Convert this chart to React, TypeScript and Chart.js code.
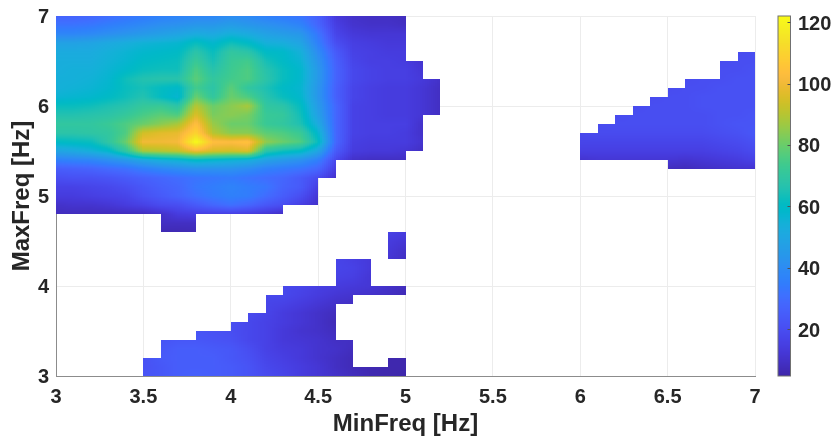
import React, { useEffect, useRef } from "react";
import { Chart, registerables } from "chart.js";

Chart.register(...registerables);

const _ = null;

const minFreqLabels = [3, 3.5, 4, 4.5, 5, 5.5, 6, 6.5, 7];
const maxFreqLabels = [3, 4, 5, 6, 7];
const colorbarLabels = [20, 40, 60, 80, 100, 120];
const colorMin = 4.7;
const colorMax = 122;

const minFreqNodes = [3.0,3.1,3.2,3.3,3.4,3.5,3.6,3.7,3.8,3.9,4.0,4.1,4.2,4.3,4.4,4.5,4.6,4.7,4.8,4.9,5.0,5.1,5.2,5.3,5.4,5.5,5.6,5.7,5.8,5.9,6.0,6.1,6.2,6.3,6.4,6.5,6.6,6.7,6.8,6.9,7.0];
const maxFreqNodes = [3.0,3.1,3.2,3.3,3.4,3.5,3.6,3.7,3.8,3.9,4.0,4.1,4.2,4.3,4.4,4.5,4.6,4.7,4.8,4.9,5.0,5.1,5.2,5.3,5.4,5.5,5.6,5.7,5.8,5.9,6.0,6.1,6.2,6.3,6.4,6.5,6.6,6.7,6.8,6.9,7.0];

// Values per MaxFreq row, from MinFreq 3.0 upward (left and lower regions)
const y30 = [_,_,_,_,_,22,23,25,26,25,24,22,19,17,14,12,10,8,6,5.5,5];
const y31 = [_,_,_,_,_,21,23,25,25,25,24,22,18,16,14,12,9,7,6,5.5,5.5];
const y32 = [_,_,_,_,_,21,24,25,25,25,23,21,17,15,13,11,9,7,_,5.5,5.5];
const y33 = [_,_,_,_,_,_,23,25,25,24,23,20,16,14,13,11,10,8];
const y34 = [_,_,_,_,_,_,22,23,23,22,21,18,16,13,12,11,9,9];
const y35 = [_,_,_,_,_,_,_,_,22,21,20,18,16,13,11,10,8];
const y36 = [_,_,_,_,_,_,_,_,_,_,20,18,16,14,12,10,7];
const y37 = [_,_,_,_,_,_,_,_,_,_,_,19,17,14,12,10,8];
const y38 = [_,_,_,_,_,_,_,_,_,_,_,_,17,16,14,12,10,9];
const y39 = [_,_,_,_,_,_,_,_,_,_,_,_,18,18,16,14,12,11,10,9,7];
const y40 = [_,_,_,_,_,_,_,_,_,_,_,_,_,18,17,15,14,13,12,10,8];
const y41 = [_,_,_,_,_,_,_,_,_,_,_,_,_,_,_,_,16,15,12];
const y42 = [_,_,_,_,_,_,_,_,_,_,_,_,_,_,_,_,17,16,13];
const y43 = [_,_,_,_,_,_,_,_,_,_,_,_,_,_,_,_,17,15,13,12,9];
const y44 = [_,_,_,_,_,_,_,_,_,_,_,_,_,_,_,_,_,_,_,13,10];
const y45 = [_,_,_,_,_,_,_,_,_,_,_,_,_,_,_,_,_,_,_,14,12];
const y46 = [_,_,_,_,_,_,6.5,6.5,7,_,_,_,_,_,_,_,_,_,_,16,14];
const y47 = [_,_,_,_,_,_,9,9,9];
const y48 = [8,8,8,8,8,8,10,14,15,15,15,14,12,9];
const y49 = [10,11,11,12,14,16,19,20,24,28,31,28,23,20,15,10];
const y50 = [14,14,15,16,17,21,24,27,31,34,36,35,30,25,20,12];
const y51 = [16,16,17,18,20,23,26,28,33,35,37,35,33,27,24,15];
const y52 = [20,21,21,22,24,26,28,30,32,33,34,32,30,28,24,19,10];
const y53 = [25,26,27,29,31,35,38,40,42,42,42,40,36,34,32,28,14];
const y54 = [36,37,38,41,45,50,54,56,60,58,56,54,48,45,42,36,18,10,9,9,9];
const y55 = [49,51,54,58,70,88,90,92,100,95,94,96,68,63,60,50,24,14,13,13,12,9];
const y56 = [60,61,62,69,80,100,100,101,122,104,103,105,85,80,76,62,28,15,14,14,14,11];
const y57 = [68,68,69,70,76,94,97,98,110,90,84,84,78,76,72,58,28,16,15,15,14,10];
const y58 = [70,70,70,72,76,80,84,88,104,86,80,80,72,70,65,52,28,16,15,15,15,10];
const y59 = [66,66,67,68,71,75,78,76,96,82,84,82,72,71,63,48,28,16,15,14,14,12,9];
const y60 = [62,62,63,65,67,71,72,68,90,80,84,88,70,68,61,46,28,16,15,14,14,12,9];
const y61 = [56,57,58,60,63,66,61,57,80,70,80,76,67,62,58,44,26,17,15,14,14,12,9];
const y62 = [54,55,56,58,62,64,61,59,74,68,78,70,65,60,57,44,26,17,15,14,14,12,9];
const y63 = [54,54,55,57,63,66,67,67,78,70,74,76,68,62,58,45,27,18,16,15,15,13,10];
const y64 = [53,54,54,56,59,62,63,63,76,67,73,76,67,62,58,45,27,18,16,15,15,12];
const y65 = [53,53,53,55,57,60,61,62,72,64,72,74,64,60,56,43,26,17,15,15,14,11];
const y66 = [52,52,52,54,56,58,59,60,68,62,70,68,60,59,54,40,24,16,15,14,14];
const y67 = [48,48,49,51,53,55,56,57,62,58,63,60,54,53,49,36,20,15,14,13,13];
const y68 = [38,38,39,41,43,45,47,49,52,51,54,52,48,46,44,33,17,13,12,12,12];
const y69 = [32,32,33,35,37,39,41,42,44,44,46,44,42,40,37,28,15,11,10,10,9];
const y70 = [27,27,28,30,32,34,36,37,38,38,40,39,36,34,32,26,13,10,9,9,8];

const leftRows = [y30,y31,y32,y33,y34,y35,y36,y37,y38,y39,y40,y41,y42,y43,y44,y45,y46,y47,y48,y49,y50,y51,y52,y53,y54,y55,y56,y57,y58,y59,y60,y61,y62,y63,y64,y65,y66,y67,y68,y69,y70];

// Right-hand wedge: MinFreq 6.0 to 7.0, MaxFreq 5.3 to 6.6
const w53 = [_,_,_,_,_,8,7.5,9,10,11,11];
const w54 = [11,12,12,12,12,12,11,12,13,14,16];
const w55 = [15,15,15,15,15,15,15,15,16,17,19];
const w56 = [17,17,17,17,17,17,17,17,18,19,21];
const w57 = [18,19,19,19,19,19,19,19,20,21,23];
const w58 = [_,19,20,20,20,20,20,20,21,22,22];
const w59 = [_,_,19,20,20,20,20,20,21,21,22];
const w60 = [_,_,_,19,20,20,20,21,21,21,21];
const w61 = [_,_,_,_,19,20,20,21,21,21,21];
const w62 = [_,_,_,_,_,19,20,20,21,21,21];
const w63 = [_,_,_,_,_,_,19,20,20,21,21];
const w64 = [_,_,_,_,_,_,_,_,20,20,21];
const w65 = [_,_,_,_,_,_,_,_,19,20,20];
const w66 = [_,_,_,_,_,_,_,_,_,19,20];

const wedgeRows = [w53,w54,w55,w56,w57,w58,w59,w60,w61,w62,w63,w64,w65,w66];
const wedgeFirstRow = 23;
const wedgeFirstColumn = 30;

const parula: number[][] = [
[.2422,.1504,.6603],[.2504,.1650,.7076],[.2578,.1818,.7511],[.2647,.1978,.7952],[.2706,.2147,.8364],[.2751,.2342,.8710],[.2783,.2559,.8991],[.2803,.2782,.9221],
[.2813,.3006,.9414],[.2810,.3228,.9579],[.2795,.3447,.9717],[.2760,.3667,.9829],[.2699,.3892,.9906],[.2602,.4123,.9952],[.2440,.4358,.9988],[.2206,.4603,.9973],
[.1963,.4847,.9892],[.1834,.5074,.9798],[.1786,.5289,.9682],[.1764,.5499,.9520],[.1687,.5703,.9359],[.1540,.5902,.9218],[.1460,.6091,.9079],[.1380,.6276,.8973],
[.1248,.6459,.8883],[.1113,.6635,.8763],[.0952,.6798,.8598],[.0689,.6948,.8394],[.0297,.7082,.8163],[.0036,.7203,.7917],[.0067,.7312,.7660],[.0433,.7411,.7394],
[.0964,.7500,.7120],[.1408,.7584,.6842],[.1717,.7670,.6554],[.1938,.7758,.6251],[.2161,.7843,.5923],[.2470,.7918,.5567],[.2906,.7973,.5188],[.3406,.8008,.4789],
[.3909,.8029,.4354],[.4456,.8024,.3909],[.5044,.7993,.3480],[.5616,.7942,.3045],[.6174,.7876,.2612],[.6720,.7793,.2227],[.7242,.7698,.1910],[.7738,.7598,.1646],
[.8203,.7498,.1535],[.8634,.7406,.1596],[.9035,.7330,.1774],[.9393,.7288,.2100],[.9728,.7298,.2394],[.9956,.7434,.2371],[.9970,.7659,.2199],[.9952,.7893,.2028],
[.9892,.8136,.1885],[.9786,.8386,.1766],[.9676,.8639,.1643],[.9610,.8890,.1537],[.9597,.9135,.1423],[.9628,.9373,.1265],[.9691,.9606,.1064],[.9769,.9839,.0805],
];

function colorFor(v: number) {
  const f = Math.max(0, Math.min(1, (v - colorMin) / (colorMax - colorMin))) * (parula.length - 1);
  const a = Math.floor(f);
  const b = Math.min(parula.length - 1, a + 1);
  const t = f - a;
  const c = [0, 1, 2].map((k) => Math.round(255 * (parula[a][k] * (1 - t) + parula[b][k] * t)));
  return `rgb(${c[0]},${c[1]},${c[2]})`;
}

function buildGrid(): (number | null)[][] {
  return maxFreqNodes.map((_y, j) =>
    minFreqNodes.map((_x, i) => {
      const left = leftRows[j][i];
      if (left !== undefined && left !== null) return left;
      const w = wedgeRows[j - wedgeFirstRow];
      if (w && i >= wedgeFirstColumn) {
        const v = w[i - wedgeFirstColumn];
        if (v !== undefined && v !== null) return v;
      }
      return null;
    })
  );
}

const plotTop = 16;
const plotBottom = 376;

const heatPlugin = {
  id: "heat",
  afterLayout(chart: any) {
    const { y, c } = chart.scales;
    [y, c].forEach((s: any) => {
      s.top = plotTop;
      s.bottom = plotBottom;
      s.height = plotBottom - plotTop;
      s.configure();
    });
    chart.chartArea.top = plotTop;
    chart.chartArea.bottom = plotBottom;
    chart.chartArea.height = plotBottom - plotTop;
  },
  beforeDatasetsDraw(chart: any) {
    const { ctx, scales, chartArea } = chart;
    const sx = scales.x;
    const sy = scales.y;
    const grid = buildGrid();
    ctx.save();
    for (let j = 0; j < maxFreqNodes.length - 1; j++) {
      for (let i = 0; i < minFreqNodes.length - 1; i++) {
        const a = grid[j][i];
        const b = grid[j][i + 1];
        const c = grid[j + 1][i];
        const d = grid[j + 1][i + 1];
        if (a === null || b === null || c === null || d === null) continue;
        const x0 = Math.round(sx.getPixelForValue(minFreqNodes[i]));
        const x1 = Math.round(sx.getPixelForValue(minFreqNodes[i + 1]));
        const yBottom = Math.round(sy.getPixelForValue(maxFreqNodes[j]));
        const yTop = Math.round(sy.getPixelForValue(maxFreqNodes[j + 1]));
        for (let py = yTop; py < yBottom; py++) {
          const w = (yBottom - py - 0.5) / (yBottom - yTop);
          for (let px = x0; px < x1; px += 2) {
            const u = (px + 1 - x0) / (x1 - x0);
            const v = (a * (1 - u) + b * u) * (1 - w) + (c * (1 - u) + d * u) * w;
            ctx.fillStyle = colorFor(v);
            ctx.fillRect(px, py, Math.min(2, x1 - px), 1);
          }
        }
      }
    }
    // colour bar, on the colour axis
    const sc = scales.c;
    const barLeft = chartArea.right + 23;
    const barWidth = 12.5;
    const top = sc.getPixelForValue(colorMax);
    const bottom = sc.getPixelForValue(colorMin);
    for (let py = Math.round(top); py < Math.round(bottom); py++) {
      ctx.fillStyle = colorFor(sc.getValueForPixel(py + 0.5));
      ctx.fillRect(barLeft, py, barWidth, 1);
    }
    ctx.strokeStyle = "#707070";
    ctx.lineWidth = 1;
    ctx.strokeRect(barLeft, top, barWidth, bottom - top);
    ctx.strokeStyle = "#505050";
    colorbarLabels.forEach((t) => {
      const py = Math.round(sc.getPixelForValue(t)) + 0.5;
      ctx.beginPath();
      ctx.moveTo(barLeft + barWidth - 3, py);
      ctx.lineTo(barLeft + barWidth, py);
      ctx.stroke();
    });
    ctx.restore();
  },
};

const fontFamily = "'Liberation Sans', Arial, sans-serif";
const textColor = "#262626";
const gridColor = "#ececec";
const axisColor = "#8c8c8c";

export default function App() {
  const ref = useRef<HTMLCanvasElement | null>(null);
  useEffect(() => {
    if (!ref.current) return;
    const grid = buildGrid();
    const nodes: { x: number; y: number; v: number }[] = [];
    grid.forEach((row, j) =>
      row.forEach((v, i) => {
        if (v !== null) nodes.push({ x: minFreqNodes[i], y: maxFreqNodes[j], v });
      })
    );
    const tickFont = { family: fontFamily, size: 20, weight: "bold" as const };
    const titleFont = { family: fontFamily, size: 24, weight: "bold" as const, lineHeight: 1 };
    const chart = new Chart(ref.current, {
      type: "scatter",
      data: { datasets: [{ data: nodes as any, pointRadius: 0, pointHoverRadius: 0, showLine: false, yAxisID: "y" }] },
      plugins: [heatPlugin],
      options: {
        responsive: false,
        animation: false,
        events: [],
        layout: { autoPadding: false, padding: 0 },
        plugins: { legend: { display: false }, tooltip: { enabled: false }, title: { display: false } },
        scales: {
          x: {
            type: "linear",
            min: 3,
            max: 7,
            afterBuildTicks: (s: any) => { s.ticks = minFreqLabels.map((value) => ({ value })); },
            afterFit: (s: any) => { s.height = 61; },
            grid: { color: gridColor, drawTicks: false, lineWidth: 1 },
            border: { color: axisColor, width: 1 },
            ticks: { font: tickFont, color: textColor, padding: 9, maxRotation: 0, autoSkip: false, callback: (v: any) => String(v) },
            title: { display: true, text: "MinFreq [Hz]", font: titleFont, color: textColor, padding: { top: 0, bottom: 1 } },
          },
          y: {
            type: "linear",
            min: 3,
            max: 7,
            position: "left",
            afterBuildTicks: (s: any) => { s.ticks = maxFreqLabels.map((value) => ({ value })); },
            afterFit: (s: any) => { s.width = 56; },
            grid: { color: gridColor, drawTicks: false, lineWidth: 1 },
            border: { color: axisColor, width: 1 },
            ticks: { font: tickFont, color: textColor, padding: 7, autoSkip: false, labelOffset: 1, callback: (v: any) => String(v) },
            title: { display: true, text: "MaxFreq [Hz]", font: titleFont, color: textColor, padding: { top: 10, bottom: 0 } },
          },
          c: {
            type: "linear",
            position: "right",
            min: colorMin,
            max: colorMax,
            afterBuildTicks: (s: any) => { s.ticks = colorbarLabels.map((value) => ({ value })); },
            afterFit: (s: any) => { s.width = 79; },
            grid: { display: false, drawTicks: false },
            border: { display: false },
            ticks: { font: tickFont, color: textColor, padding: 43, autoSkip: false, labelOffset: 2, callback: (v: any) => String(v) },
          },
        },
      },
    } as any);
    return () => chart.destroy();
  }, []);
  return (
    <div style={{ position: "absolute", left: 0, top: 0, width: 834, height: 437, background: "#fff" }}>
      <canvas ref={ref} width={834} height={437} style={{ display: "block" }} />
    </div>
  );
}
